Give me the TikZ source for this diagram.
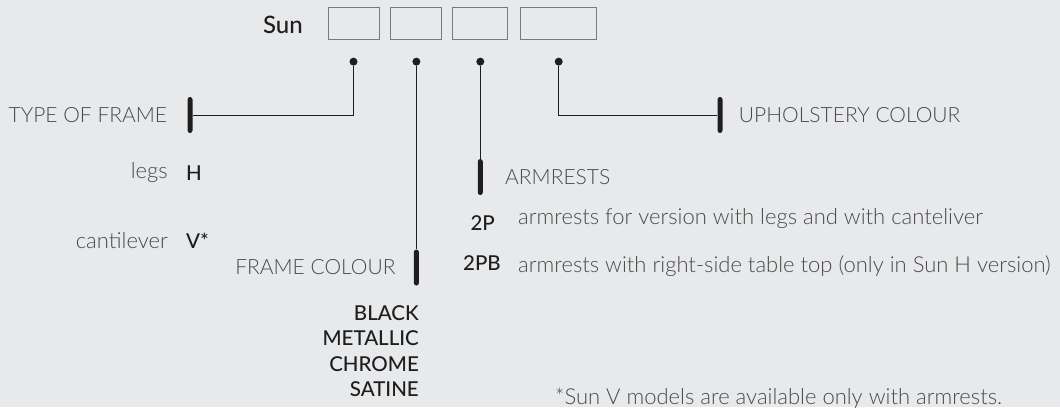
\documentclass[tikz,border=0pt]{standalone}
\usepackage{fontspec}
\setmainfont{Lato}[UprightFont={* Light},BoldFont={* Medium}]
\usepackage{xcolor}
\usetikzlibrary{positioning}

\definecolor{paper}{HTML}{E8E9EB}
\definecolor{ink}{HTML}{1E1E1E}
\definecolor{labelgray}{HTML}{4A4A4A}
\definecolor{boxgray}{HTML}{7A7A7A}

\begin{document}
\begin{tikzpicture}[
  x=1pt,y=-1pt,
  node distance=11pt,
  every node/.style={font=\fontsize{21}{24}\selectfont,text=labelgray,inner sep=0pt},
  desc/.style={font=\fontsize{22}{24}\selectfont},
  codebox/.style={draw=boxgray,line width=0.9pt,minimum height=32pt},
  bar/.style={fill=ink,rounded corners=2.5pt,minimum width=5pt,minimum height=36pt},
  pin/.style={circle,fill=ink,minimum size=8pt},
  lead/.style={draw=ink,line width=0.9pt},
  value/.style={text=ink,font=\fontsize{20.5}{25.5}\selectfont\bfseries}
]
\fill[paper] (0,0) rectangle (1060,407);
\useasboundingbox (0,0) rectangle (1060,407);

% code boxes
\node[codebox,minimum width=51pt] (frame) at (353.5,23) {};
\node[codebox,minimum width=51pt,right=11pt of frame] (colour) {};
\node[codebox,minimum width=55pt,right=10pt of colour] (arms) {};
\node[codebox,minimum width=76pt,right=12pt of arms] (uphol) {};
\node[value,font=\fontsize{24}{28}\selectfont\bfseries,anchor=east] (sun) at (303,25) {Sun};

% pins under the boxes
\node[pin,below=18pt of frame] (p1) {};
\node[pin,below=18pt of colour] (p2) {};
\node[pin,below=18pt of arms] (p3) {};
\node[pin,below=18pt of uphol] (p4) {};

% bars
\node[bar] (tbar) at (190,115) {};
\node[bar,below=183.5pt of p2] (cbar) {};
\node[bar,below=93pt of p3] (abar) {};
\node[bar] (ubar) at (720,115) {};

\draw[lead] (p1) |- (tbar);
\draw[lead] (p2) -- (cbar);
\draw[lead] (p3) -- (abar);
\draw[lead] (p4) |- (ubar);

% type of frame
\node[left=20pt of tbar] (tlabel) {TYPE OF FRAME};
\node[desc,anchor=east] (legs) at (168,173) {legs};
\node[value,anchor=west] (hcode) at (186,173) {H};
\node[desc,anchor=east] (canti) at (168,241) {cantilever};
\node[value,anchor=west] (vcode) at (186,241) {V*};

% frame colour
\node[left=18pt of cbar] (clabel) {FRAME COLOUR};
\node[value,align=right,anchor=north east] (colours) at (419,305) {BLACK\\METALLIC\\CHROME\\SATINE};

% armrests
\node[right=22pt of abar] (alabel) {ARMRESTS};
\node[value,anchor=east] (pcode) at (495,223) {2P};
\node[desc,anchor=west] (pdesc) at (518,219) {armrests for version with legs and with canteliver};
\node[value,anchor=east] (pbcode) at (501,263) {2PB};
\node[desc,anchor=west] (pbdesc) at (518,266) {armrests with right-side table top (only in Sun H version)};

% upholstery
\node[right=16pt of ubar] (ulabel) {UPHOLSTERY COLOUR};

\node[desc,anchor=west] (note) at (555,398) {*Sun V models are available only with armrests.};
\end{tikzpicture}
\end{document}
